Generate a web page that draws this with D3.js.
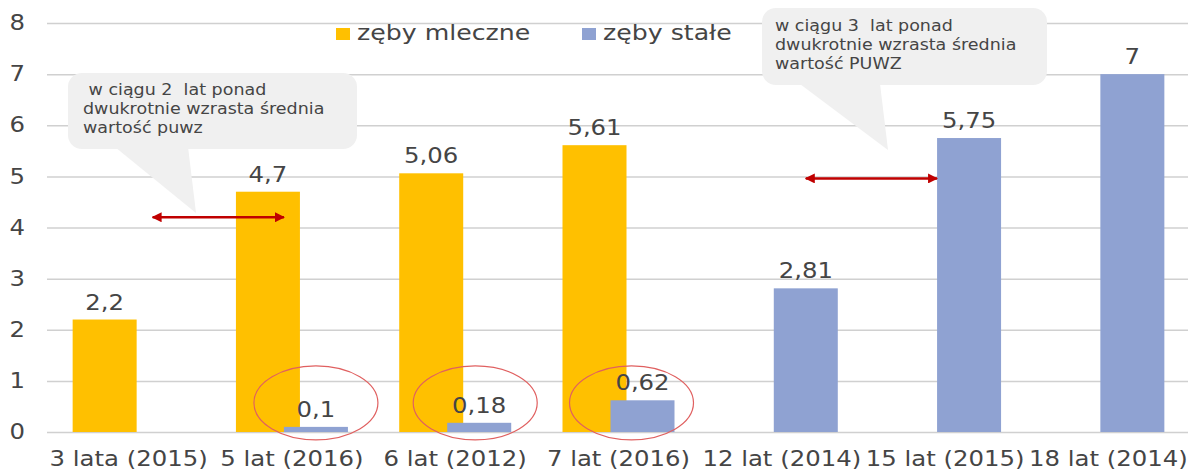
<!DOCTYPE html>
<html>
<head>
<meta charset="utf-8">
<script src="https://cdn.jsdelivr.net/npm/d3@7"></script>
<style>
  body { margin: 0; background: #fff; }
  svg text { font-family: "DejaVu Sans", sans-serif; fill: #454545; }
</style>
</head>
<body>
<svg id="chart"></svg>
<script>
const categories = ["3 lata (2015)", "5 lat (2016)", "6 lat (2012)", "7 lat (2016)", "12 lat (2014)", "15 lat (2015)", "18 lat (2014)"];
const mleczne = [2.2, 4.7, 5.06, 5.61, null, null, null];
const stale = [null, 0.1, 0.18, 0.62, 2.81, 5.75, 7];
const seriesNames = ["zęby mleczne", "zęby stałe"];
const seriesColors = ["#FFC000", "#8FA2D2"];
const yTicks = [0, 1, 2, 3, 4, 5, 6, 7, 8];

const W = 1192, H = 475;
const STRETCH = 1.16; // source font is a wide geometric face

const svg = d3.select("#chart").attr("width", W).attr("height", H);

const x = d3.scaleBand().domain(categories).range([47, 1190]);
const slot = d3.scalePoint().domain(seriesNames).range([-24, 24]);
const y = d3.scaleLinear().domain([0, 8]).range([432, 23]);
const bw = x.bandwidth();
const barW = 64;
const cx = (cat, s) => x(cat) + bw / 2 + slot(s);

// grid + y labels
const yAxis = svg.append("g")
  .attr("transform", "translate(47,0)")
  .call(d3.axisLeft(y).tickValues(yTicks).tickSize(-(1188 - 47)).tickPadding(22));
yAxis.select(".domain").remove();
yAxis.selectAll("line").attr("stroke", "#d0d0d0").attr("stroke-width", 1.5);
yAxis.selectAll("text")
  .attr("x", -22 / STRETCH)
  .attr("transform", `scale(${STRETCH},1)`)
  .style("font-size", "21px").attr("fill", "#454545");

// x labels
const xAxis = svg.append("g")
  .attr("transform", "translate(0,432)")
  .call(d3.axisBottom(x).tickSize(0).tickPadding(19));
xAxis.select(".domain").remove();
xAxis.selectAll("text")
  .attr("transform", `scale(${STRETCH},1)`)
  .style("font-size", "21px").attr("fill", "#454545");

// bars (mleczne first, stałe drawn over)
const series = [mleczne, stale];
series.forEach((vals, si) => {
  const name = seriesNames[si];
  const rows = categories.map((c, i) => ({ c, v: vals[i] })).filter(d => d.v != null);
  const g = svg.append("g");
  g.selectAll("rect").data(rows).join("rect")
    .attr("x", d => cx(d.c, name) - barW / 2)
    .attr("y", d => y(d.v))
    .attr("width", barW)
    .attr("height", d => y(0) - y(d.v))
    .attr("fill", seriesColors[si]);
  g.selectAll("text").data(rows).join("text")
    .attr("transform", d => `translate(${cx(d.c, name)},${y(d.v) - 10}) scale(${STRETCH},1)`)
    .attr("text-anchor", "middle")
    .style("font-size", "21px")
    .text(d => String(d.v).replace(".", ","));
});

// legend
const legend = svg.append("g");
[[336, 0], [582, 1]].forEach(([lx, i]) => {
  legend.append("rect").attr("x", lx).attr("y", 28).attr("width", 14).attr("height", 12).attr("fill", seriesColors[i]);
  legend.append("text")
    .attr("transform", `translate(${lx + 21},40) scale(1.2,1)`)
    .style("font-size", "21px").text(seriesNames[i]);
});

// ellipses around small values
const ell = [[categories[1], 0], [categories[2], -4], [categories[3], -11]];
svg.append("g").selectAll("ellipse").data(ell).join("ellipse")
  .attr("cx", d => cx(d[0], seriesNames[1]) + d[1])
  .attr("cy", y(0.57))
  .attr("rx", 62).attr("ry", 37)
  .attr("fill", "none").attr("stroke", "#e06060").attr("stroke-width", 1.2);

// callouts
function callout(rx, ry, rw, rh, tail, lines, tx, ty0) {
  const g = svg.append("g");
  g.append("rect").attr("x", rx).attr("y", ry).attr("width", rw).attr("height", rh)
    .attr("rx", 14).attr("fill", "#f0f0f0");
  g.append("path").attr("d", d3.line()(tail)).attr("fill", "#f0f0f0");
  lines.forEach((t, i) => {
    g.append("text")
      .attr("transform", `translate(${tx},${ty0 + i * 19}) scale(1.13,1)`)
      .style("font-size", "15.5px").style("white-space", "pre").attr("fill", "#505050")
      .text(t);
  });
}
callout(68, 73, 289, 76, [[115, 147], [188, 147], [196, 213]],
  ["\u00a0w ciągu 2  lat ponad", "dwukrotnie wzrasta średnia", "wartość puwz"], 83, 95);
callout(762, 8, 285, 77, [[800, 84], [880, 84], [888, 150]],
  ["w ciągu 3  lat ponad", "dwukrotnie wzrasta średnia", "wartość PUWZ"], 775, 31);

// red double arrows
const defs = svg.append("defs");
defs.append("marker").attr("id", "ah").attr("viewBox", "0 0 10 10")
  .attr("refX", 9).attr("refY", 5).attr("markerWidth", 4).attr("markerHeight", 4)
  .attr("orient", "auto-start-reverse")
  .append("path").attr("d", "M0,0L10,5L0,10Z").attr("fill", "#C00000");
const arrows = [[0, 4.2], [4, 4.96]];
svg.append("g").selectAll("line").data(arrows).join("line")
  .attr("x1", d => cx(categories[d[0]], seriesNames[1]))
  .attr("x2", d => cx(categories[d[0] + 1], seriesNames[1]) - barW / 2)
  .attr("y1", d => y(d[1])).attr("y2", d => y(d[1]))
  .attr("stroke", "#C00000").attr("stroke-width", 2.5)
  .attr("marker-start", "url(#ah)").attr("marker-end", "url(#ah)");
</script>
</body>
</html>
